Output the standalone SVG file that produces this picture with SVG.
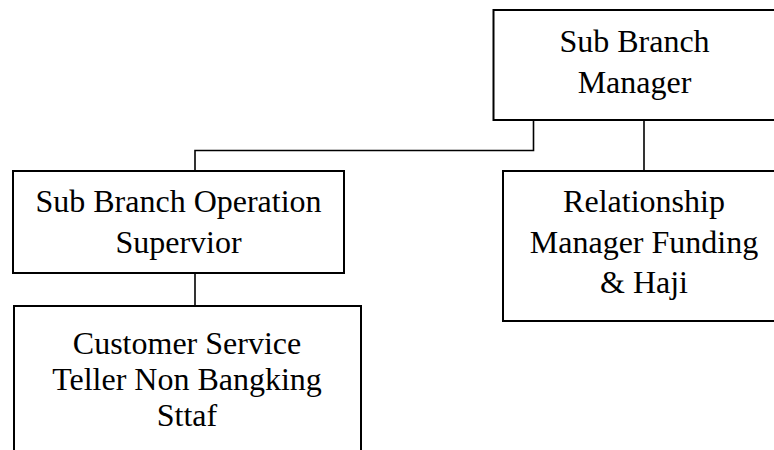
<svg xmlns="http://www.w3.org/2000/svg" width="774" height="450" viewBox="0 0 774 450">
<style>
.box{fill:#fff;stroke:#000;stroke-width:2}
.lbl{font-family:"Liberation Serif","Times New Roman",serif;font-size:32px;fill:#000;text-anchor:middle}
.con{fill:none;stroke:#000;stroke-width:1.6}
</style>
<rect width="774" height="450" fill="#fff"/>
<g id="connectors">
<polyline class="con" points="533.5,120 533.5,150.5 195,150.5 195,171"/>
<line class="con" x1="644" y1="120" x2="644" y2="171"/>
<line class="con" x1="195" y1="273" x2="195" y2="306"/>
</g>
<g id="sub-branch-manager">
<rect class="box" x="493.5" y="10" width="290" height="110"/>
<text class="lbl" x="634.5" y="52">Sub Branch</text>
<text class="lbl" x="634.5" y="92.5">Manager</text>
</g>
<g id="operation-supervisor">
<rect class="box" x="13" y="171" width="331" height="102"/>
<text class="lbl" x="178.5" y="212">Sub Branch Operation</text>
<text class="lbl" x="178.5" y="252.5">Supervior</text>
</g>
<g id="relationship-manager">
<rect class="box" x="503" y="171" width="290" height="150"/>
<text class="lbl" x="644" y="212">Relationship</text>
<text class="lbl" x="644" y="253">Manager Funding</text>
<text class="lbl" x="644" y="293">&amp; Haji</text>
</g>
<g id="customer-service">
<rect class="box" x="14" y="306" width="347" height="160"/>
<text class="lbl" x="187" y="354">Customer Service</text>
<text class="lbl" x="187" y="390">Teller Non Bangking</text>
<text class="lbl" x="187" y="426">Sttaf</text>
</g>
</svg>
